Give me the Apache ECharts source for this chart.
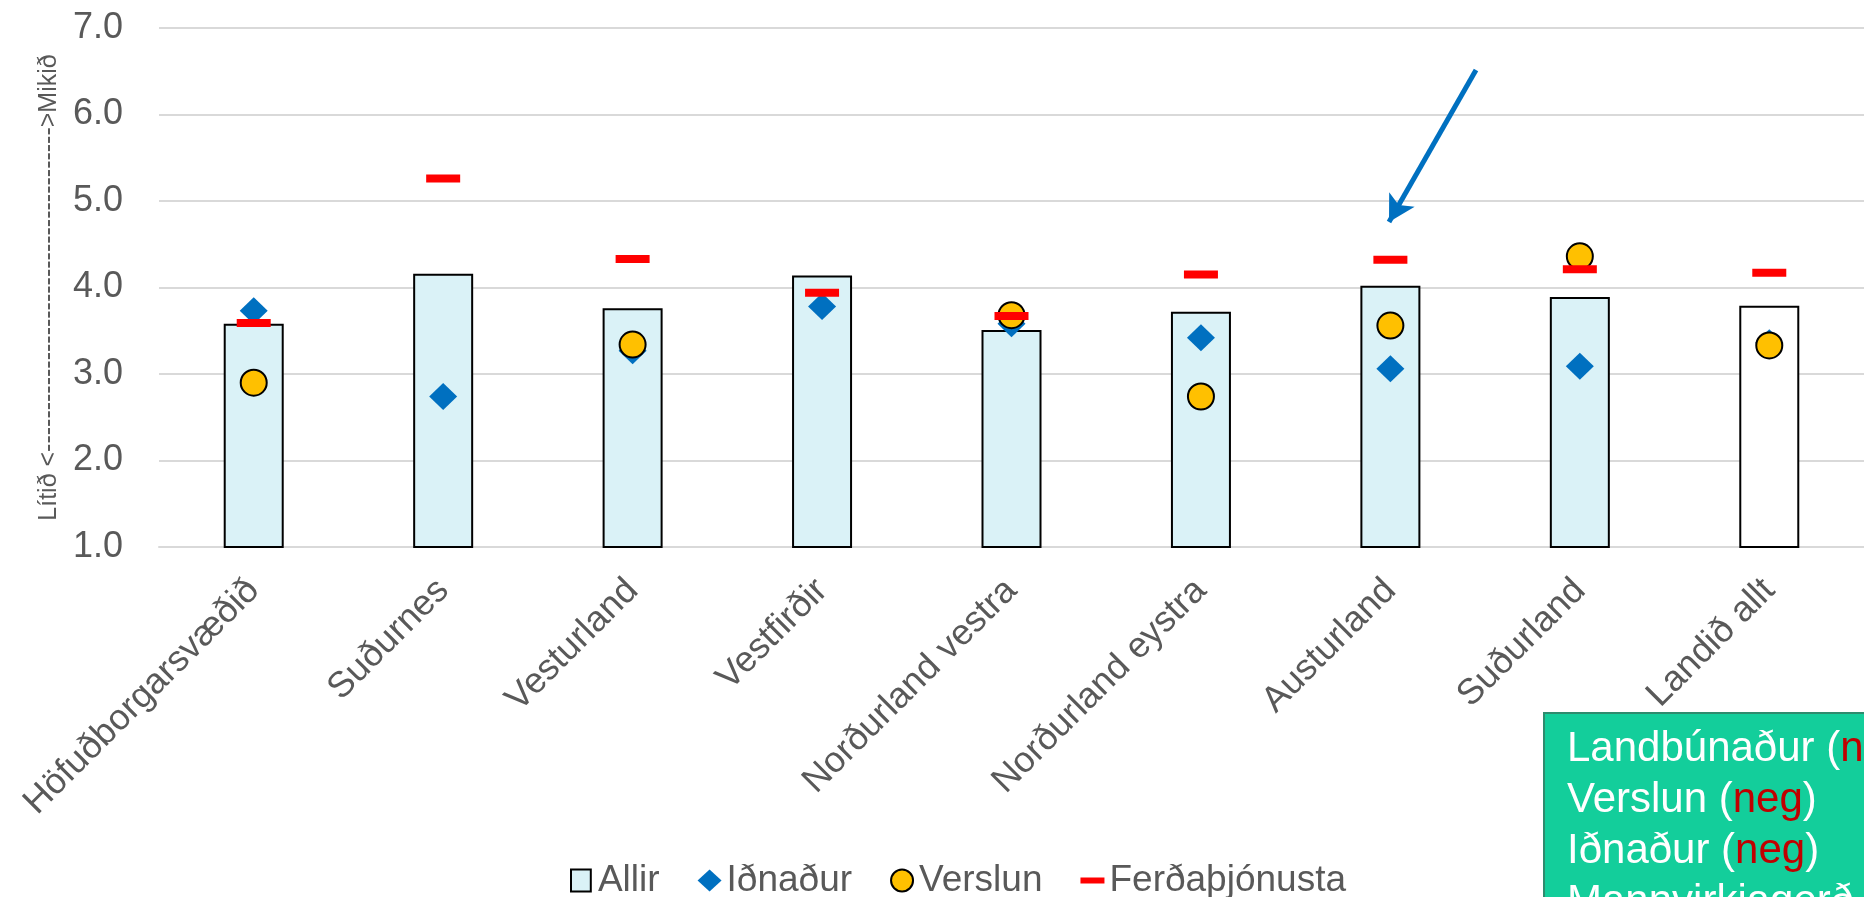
<!DOCTYPE html>
<html>
<head>
<meta charset="utf-8">
<script src="https://cdn.jsdelivr.net/npm/echarts@6/dist/echarts.min.js"></script>
<style>
  html, body { margin: 0; padding: 0; background: #fff; }
  #chart { width: 1864px; height: 897px; }
</style>
</head>
<body>
<div id="chart"></div>
<script>
const categories = ['Höfuðborgarsvæðið', 'Suðurnes', 'Vesturland', 'Vestfirðir', 'Norðurland vestra', 'Norðurland eystra', 'Austurland', 'Suðurland', 'Landið allt']
const allir = [3.58, 4.16, 3.76, 4.14, 3.51, 3.72, 4.02, 3.89, 3.79]
const idnadur = [3.73, 2.74, 3.27, 3.78, 3.58, 3.42, 3.06, 3.09, 3.36]
const verslun = [2.90, null, 3.34, null, 3.68, 2.74, 3.56, 4.36, 3.33]
const ferdathjonusta = [3.59, 5.26, 4.33, 3.94, 3.67, 4.15, 4.32, 4.21, 4.17]
const yTicks = [1, 2, 3, 4, 5, 6, 7]
const boxLines = [['Landbúnaður', 'neg'], ['Verslun', 'neg'], ['Iðnaður', 'neg'], ['Mannvirkjagerð', '']]

const font = "'Liberation Sans', Arial, sans-serif"
const grey = '#595959'

const chart = echarts.init(document.getElementById('chart'))

const boxText = boxLines
  .map(([name, sign]) => sign ? `{w|${name} (}{r|${sign}}{w|)}` : `{w|${name}}`)
  .join('\n')

chart.setOption({
  animation: false,
  textStyle: { fontFamily: font },
  grid: { left: 159, top: 28, width: 1716, height: 519 },
  legend: {
    left: 565,
    top: 857,
    itemWidth: 24,
    itemHeight: 22,
    itemGap: 38,
    textStyle: { fontSize: 37, color: grey, fontFamily: font },
    data: [
      { name: 'Allir', icon: 'path://M0,0H18V20H0Z', itemStyle: { color: '#DAF2F7', borderColor: '#000', borderWidth: 2 } },
      { name: 'Iðnaður', icon: 'diamond' },
      { name: 'Verslun', icon: 'circle', itemStyle: { borderColor: '#000', borderWidth: 2 } },
      { name: 'Ferðaþjónusta', icon: 'path://M0,0H4V1H0Z' },
    ],
  },
  xAxis: {
    type: 'category',
    data: categories,
    axisLine: { lineStyle: { color: '#D9D9D9', width: 2 } },
    axisTick: { show: false },
    axisLabel: { rotate: 45, interval: 0, margin: 38, fontSize: 36, color: grey, fontFamily: font },
  },
  yAxis: {
    type: 'value',
    min: yTicks[0],
    max: yTicks[yTicks.length - 1],
    interval: 1,
    name: 'Lítið <' + '-'.repeat(39) + '>Mikið',
    nameLocation: 'middle',
    nameRotate: 90,
    nameGap: 95,
    nameTextStyle: { fontSize: 25, color: grey, fontFamily: font },
    axisLine: { show: false },
    axisTick: { show: false },
    splitLine: { lineStyle: { color: '#D9D9D9', width: 2 } },
    axisLabel: { margin: 36, fontSize: 36, color: grey, fontFamily: font, formatter: (v) => v.toFixed(1) },
  },
  series: [
    {
      name: 'Allir',
      type: 'bar',
      barWidth: 60,
      itemStyle: { color: '#DAF2F7', borderColor: '#000', borderWidth: 2 },
      data: allir.map((v, i) => (i === categories.length - 1 ? { value: v, itemStyle: { color: '#FFFFFF' } } : v)),
      markLine: {
        silent: true,
        symbol: ['none', 'arrow'],
        symbolSize: [22, 26],
        label: { show: false },
        lineStyle: { color: '#0070C0', width: 5, type: 'solid' },
        data: [[{ x: 1476, y: 70 }, { x: 1389, y: 222 }]],
      },
    },
    {
      name: 'Iðnaður',
      type: 'scatter',
      symbol: 'diamond',
      symbolSize: [28, 27],
      itemStyle: { color: '#0070C0', opacity: 1 },
      data: idnadur,
    },
    {
      name: 'Verslun',
      type: 'scatter',
      symbol: 'circle',
      symbolSize: 26,
      itemStyle: { color: '#FFC000', borderColor: '#000', borderWidth: 2, opacity: 1 },
      data: verslun,
    },
    {
      name: 'Ferðaþjónusta',
      type: 'scatter',
      symbol: 'rect',
      symbolSize: [34, 8],
      itemStyle: { color: '#FF0000', opacity: 1 },
      data: ferdathjonusta,
    },
  ],
  graphic: [
    {
      type: 'group',
      left: 1543,
      top: 712,
      z: 100,
      children: [
        {
          type: 'rect',
          shape: { x: 0, y: 0, width: 420, height: 260 },
          style: { fill: '#13CE9B', stroke: '#2E8B6E', lineWidth: 2 },
        },
        {
          type: 'text',
          x: 23,
          y: 11,
          style: {
            text: boxText,
            fill: '#FFFFFF',
            rich: {
              w: { fontSize: 42, lineHeight: 51, fill: '#FFFFFF', fontFamily: font },
              r: { fontSize: 42, lineHeight: 51, fill: '#C00000', fontFamily: font },
            },
          },
        },
      ],
    },
  ],
})
</script>
</body>
</html>
